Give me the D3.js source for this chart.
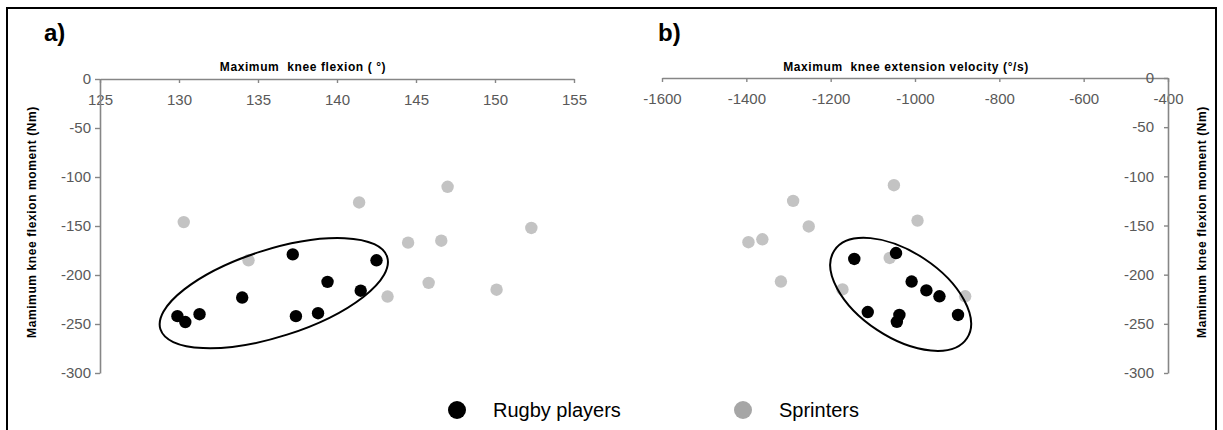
<!DOCTYPE html>
<html>
<head>
<meta charset="utf-8">
<script src="https://cdn.jsdelivr.net/npm/d3@7"></script>
<style>
  html, body { margin: 0; padding: 0; background: #fff; }
  svg { display: block; }
  .tick text { font-family: "Liberation Sans", Arial, sans-serif; font-size: 15px; fill: #595959; }
</style>
</head>
<body>
<svg id="chart" width="1223" height="430"></svg>
<script>
// ---- Data ----
// Panel a) Maximum knee flexion (°) vs max knee flexion moment (Nm)
const flexRugby     = [129.9, 130.4, 131.3, 134.0, 137.2, 137.4, 138.8, 139.4, 141.5, 142.5];
const momentRugbyA  = [-242, -248, -240, -223, -179, -242, -239, -207, -216, -185];
const flexSprint    = [130.3, 134.4, 141.4, 143.2, 144.5, 145.8, 146.6, 147.0, 150.1, 152.3];
const momentSprintA = [-146, -185, -126, -222, -167, -208, -165, -110, -215, -152];

// Panel b) Maximum knee extension velocity (°/s) vs moment (Nm)
const velRugby      = [-1144, -1045, -1008, -973, -942, -1112, -1037, -1043, -898];
const momentRugbyB  = [-184, -178, -207, -216, -222, -238, -241, -248, -241];
const velSprint     = [-1050, -1289, -994, -1252, -1395, -1362, -1060, -1318, -1172, -881];
const momentSprintB = [-109, -125, -145, -151, -167, -164, -183, -207, -215, -222];

const ticksFlex   = [125, 130, 135, 140, 145, 150, 155];
const ticksVel    = [-1600, -1400, -1200, -1000, -800, -600, -400];
const ticksMoment = [0, -50, -100, -150, -200, -250, -300];

const seriesNames = ["Rugby players", "Sprinters"];
const titleA  = "Maximum  knee flexion ( °)";
const titleB  = "Maximum  knee extension velocity (°/s)";
const titleY  = "Mamimum knee flexion moment (Nm)";

// ellipse annotation centres (data units)
const ellipseA = {x: 136.0, y: -218.5};
const ellipseB = {x: -1034, y: -220};

// ---- Drawing ----
const svg = d3.select("#chart");
const AXIS = "#868686";
const GRAY = "#c3c3c3";

svg.append("rect").attr("x", 7).attr("y", 8).attr("width", 1209).attr("height", 460)
   .attr("fill", "none").attr("stroke", "#000").attr("stroke-width", 2);

const xA = d3.scaleLinear().domain([125, 155]).range([100, 574]);
const yA = d3.scaleLinear().domain([-300, 0]).range([373, 79]);
const xB = d3.scaleLinear().domain([-1600, -400]).range([662, 1168]);
const yB = d3.scaleLinear().domain([-300, 0]).range([373, 78]);

function styleAxis(g) {
  g.selectAll("path.domain").attr("stroke", AXIS).attr("stroke-width", 1.6);
  g.selectAll(".tick line").attr("stroke", AXIS).attr("stroke-width", 1.4);
}

// Panel a axes
svg.append("g").attr("transform", `translate(0,${yA(0)})`)
  .call(d3.axisBottom(xA).tickValues(ticksFlex).tickSize(4).tickSizeOuter(0).tickPadding(11).tickFormat(d3.format("d")))
  .call(styleAxis);
svg.append("g").attr("transform", `translate(${xA(125)},0)`)
  .call(d3.axisLeft(yA).tickValues(ticksMoment).tickSize(5).tickSizeOuter(0).tickPadding(4).tickFormat(d => d3.format("d")(d).replace("−", "-")))
  .call(styleAxis);

// Panel b axes
svg.append("g").attr("transform", `translate(0,${yB(0)})`)
  .call(d3.axisBottom(xB).tickValues(ticksVel).tickSize(4).tickSizeOuter(0).tickPadding(11).tickFormat(d => d3.format("d")(d).replace("−", "-")))
  .call(styleAxis);
svg.append("g").attr("transform", `translate(${xB(-400)},0)`)
  .call(d3.axisLeft(yB).tickValues(ticksMoment).tickSize(4).tickSizeOuter(0).tickPadding(10).tickFormat(d => d3.format("d")(d).replace("−", "-")))
  .call(styleAxis);

// Titles
const titleFont = {"font-family": "Liberation Sans, Arial, sans-serif", "font-weight": "bold", "font-size": "12px", "letter-spacing": "0.6px", "fill": "#000"};
function applyFont(sel, f) { Object.entries(f).forEach(([k, v]) => sel.attr(k, v)); return sel; }

applyFont(svg.append("text").attr("x", 303).attr("y", 71).attr("text-anchor", "middle").attr("xml:space", "preserve").text(titleA), titleFont);
applyFont(svg.append("text").attr("x", 906).attr("y", 71).attr("text-anchor", "middle").attr("xml:space", "preserve").text(titleB), titleFont);
applyFont(svg.append("text").attr("transform", "translate(36,222) rotate(-90)").attr("text-anchor", "middle").text(titleY), titleFont);
applyFont(svg.append("text").attr("transform", "translate(1206,222) rotate(-90)").attr("text-anchor", "middle").text(titleY), titleFont);

svg.append("text").attr("x", 44).attr("y", 41).attr("font-family", "Liberation Sans, Arial, sans-serif")
   .attr("font-weight", "bold").attr("font-size", "24px").text("a)");
svg.append("text").attr("x", 658).attr("y", 41).attr("font-family", "Liberation Sans, Arial, sans-serif")
   .attr("font-weight", "bold").attr("font-size", "24px").text("b)");

// Points
function dots(xs, ys, xScale, yScale, color) {
  svg.append("g").selectAll("circle").data(xs.map((x, i) => [x, ys[i]])).join("circle")
    .attr("cx", d => xScale(d[0])).attr("cy", d => yScale(d[1])).attr("r", 6.2).attr("fill", color);
}
dots(flexSprint, momentSprintA, xA, yA, GRAY);
dots(flexRugby, momentRugbyA, xA, yA, "#000");
dots(velSprint, momentSprintB, xB, yB, GRAY);
dots(velRugby, momentRugbyB, xB, yB, "#000");

// Ellipses
svg.append("ellipse").attr("transform", `translate(${xA(ellipseA.x)},${yA(ellipseA.y)}) rotate(-17.7)`)
   .attr("rx", 119).attr("ry", 43.6).attr("fill", "none").attr("stroke", "#000").attr("stroke-width", 2);
svg.append("ellipse").attr("transform", `translate(${xB(ellipseB.x)},${yB(ellipseB.y)}) rotate(33.5)`)
   .attr("rx", 79.5).attr("ry", 42.7).attr("fill", "none").attr("stroke", "#000").attr("stroke-width", 2);

// Legend
const legendColors = ["#000", "#a6a6a6"];
const legendX = [457, 743];
seriesNames.forEach((name, i) => {
  svg.append("circle").attr("cx", legendX[i]).attr("cy", 410).attr("r", 9).attr("fill", legendColors[i]);
  svg.append("text").attr("x", legendX[i] + 36).attr("y", 410).attr("dy", "0.36em")
     .attr("font-family", "Liberation Sans, Arial, sans-serif").attr("font-size", "20px").attr("fill", "#000").text(name);
});
</script>
</body>
</html>
